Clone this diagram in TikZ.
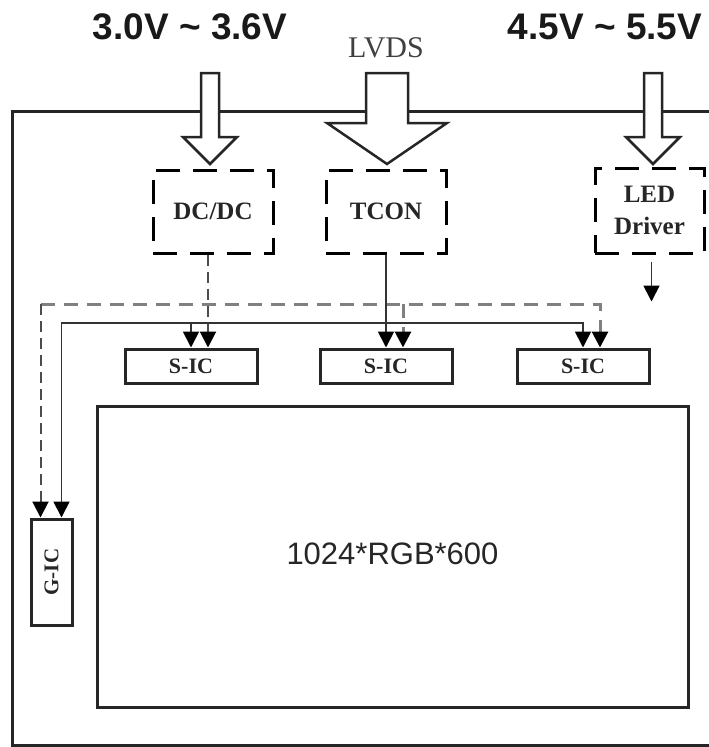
\documentclass[tikz,border=0pt]{standalone}
\usepackage{fontspec}
\setmainfont{Liberation Serif}
\newfontfamily\arialf{Liberation Sans}
\usetikzlibrary{arrows.meta}
\tikzset{
  x=1pt, y=-1pt,
  tri/.tip={Triangle[width=16pt,length=16pt,black]},
  dashbox/.style={draw=black, line width=3pt, dash pattern=on 24pt off 13pt, inner sep=0pt, font=\bfseries\fontsize{25}{32}\selectfont, text=black!85},
  icbox/.style={draw=black!85, line width=3pt, inner sep=0pt, font=\bfseries\fontsize{22}{24}\selectfont, text=black!85},
  bigbox/.style={draw=black!85, line width=3pt, inner sep=0pt},
  hollow/.style={draw=black!85, line width=2.5pt, fill=white, line join=miter},
  solidc/.style={draw=black!80, line width=1.8pt},
  grayd/.style={draw=black!50, line width=3pt, dash pattern=on 14pt off 9pt},
  darkd/.style={draw=black!70, line width=2pt, dash pattern=on 11pt off 6pt},
  volt/.style={font=\arialf\bfseries\fontsize{37}{40}\selectfont, anchor=base, text=black!90},
}
\begin{document}
\begin{tikzpicture}
\useasboundingbox (0,0) rectangle (709,747);
\clip (0,0) rectangle (709,747);
% outer frame
\draw[draw=black!85, line width=3pt] (740,111) -- (12,111) -- (12,745) -- (740,745);
% titles
\node[volt] (v1) at (190,39) {3.0V \char`~{} 3.6V};
\node[volt] (v2) at (605,39) {4.5V \char`~{} 5.5V};
\node[anchor=base, font=\fontsize{30}{32}\selectfont, text=black!75] (lvds) at (386,57) {LVDS};
% hollow arrows
\draw[hollow] (201,73) -- (219,73) -- (219,137) -- (237,137) -- (210,164) -- (183,137) -- (201,137) -- cycle;
\draw[hollow] (366,73) -- (408,73) -- (408,123) -- (447,123) -- (387,164) -- (327,123) -- (366,123) -- cycle;
\draw[hollow] (644,73) -- (662,73) -- (662,137) -- (680,137) -- (653,164) -- (626,137) -- (644,137) -- cycle;
% dashed blocks
\node[dashbox, minimum width=120pt, minimum height=83pt] (dcdc) at (213,211.5) {DC/DC};
\node[dashbox, minimum width=120pt, minimum height=83pt] (tcon) at (386,211.5) {TCON};
\node[dashbox, minimum width=109pt, minimum height=85pt, align=center] (led) at (649.5,210.5) {LED\\Driver};
% ICs
\node[icbox, minimum width=132pt, minimum height=34pt] (sic1) at (191,366) {S-IC};
\node[icbox, minimum width=132pt, minimum height=34pt] (sic2) at (386,366) {S-IC};
\node[icbox, minimum width=132pt, minimum height=34pt] (sic3) at (583,366) {S-IC};
\node[icbox, minimum width=41pt, minimum height=106pt] (gic) at (51.5,572) {};
\node[font=\bfseries\fontsize{21}{24}\selectfont, text=black!85, rotate=90] (gict) at (gic.center) {G-IC};
\node[bigbox, minimum width=591pt, minimum height=301pt] (panel) at (392.5,556.5) {};
\node[font=\arialf\fontsize{31}{34}\selectfont, text=black!85] (res) at ([yshift=3pt]panel.center) {1024*RGB*600};
% connector coordinates
\coordinate (gS) at ([xshift=10pt]gic.north);
\coordinate (gD) at ([xshift=-11pt]gic.north);
\coordinate (s1S) at (sic1.north);
\coordinate (s1D) at ([xshift=17pt]sic1.north);
\coordinate (s2S) at (sic2.north);
\coordinate (s2D) at ([xshift=17pt]sic2.north);
\coordinate (s3S) at (sic3.north);
\coordinate (s3D) at ([xshift=17pt]sic3.north);
\coordinate (busS) at (0,323);
\coordinate (busD) at (0,304);
% dashed gray bus
\draw[grayd, -{tri}] (gD |- busD) -- (s3D |- busD) -- (s3D);
\draw[grayd, -{tri}] (s2D |- busD) -- (s2D);
\draw[darkd, -{tri}] (gD |- busD) -- (gD);
% DC/DC feed
\draw[darkd, -{tri}] (dcdc.south -| s1D) -- (s1D);
% solid bus
\draw[solidc, {tri}-{tri}] (gS) -- (gS |- busS) -- (s3S |- busS) -- (s3S);
\draw[solidc, -{tri}] (s1S |- busS) -- (s1S);
\draw[solidc, -{tri}] (tcon.south) -- (s2S);
% LED driver output
\coordinate (ledout) at ([xshift=2pt,yshift=-47pt]led.south);
\draw[solidc, -{tri}] ([xshift=2pt,yshift=-7pt]led.south) -- (ledout);
\end{tikzpicture}
\end{document}
